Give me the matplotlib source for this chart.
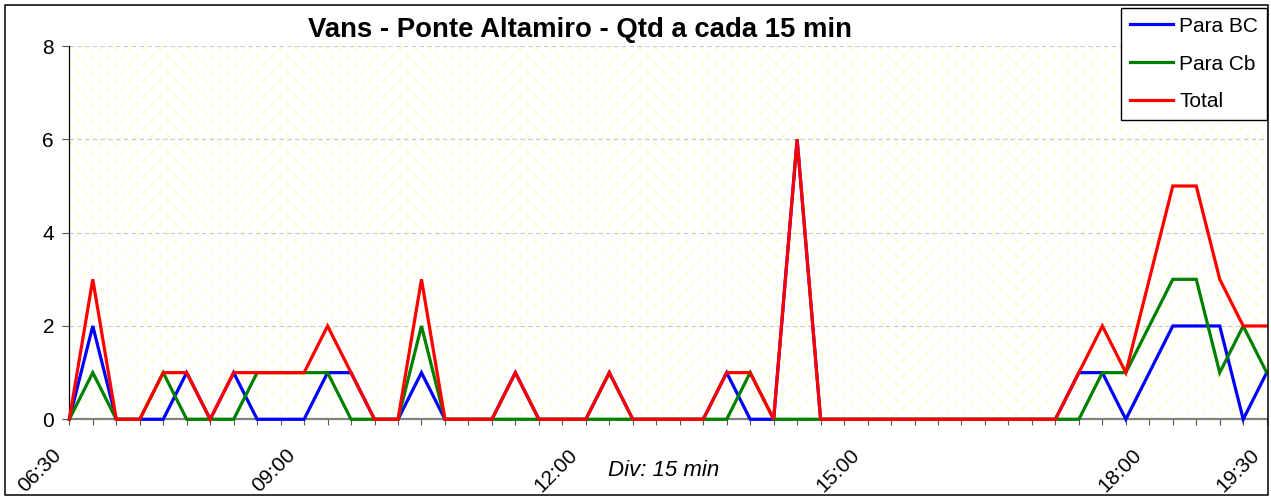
import numpy as np
import matplotlib
matplotlib.use("Agg")
import matplotlib.pyplot as plt
from matplotlib.patches import Rectangle
from matplotlib.transforms import blended_transform_factory

plt.rcParams['font.family'] = ['Liberation Sans', 'DejaVu Sans']

# Vehicle counts per 15-minute slot, starting at 06:30
para_bc = [0, 2, 0, 0, 0, 1, 0, 1, 0, 0, 0, 1, 1, 0, 0, 1, 0, 0, 0, 1,
           0, 0, 0, 1, 0, 0, 0, 0, 1, 0, 0, 6, 0, 0, 0, 0, 0, 0, 0, 0,
           0, 0, 0, 1, 1, 0, 1, 2, 2, 2, 0, 1]
para_cb = [0, 1, 0, 0, 1, 0, 0, 0, 1, 1, 1, 1, 0, 0, 0, 2, 0, 0, 0, 0,
           0, 0, 0, 0, 0, 0, 0, 0, 0, 1, 0, 0, 0, 0, 0, 0, 0, 0, 0, 0,
           0, 0, 0, 0, 1, 1, 2, 3, 3, 1, 2, 1]
total = [0, 3, 0, 0, 1, 1, 0, 1, 1, 1, 1, 2, 1, 0, 0, 3, 0, 0, 0, 1,
         0, 0, 0, 1, 0, 0, 0, 0, 1, 1, 0, 6, 0, 0, 0, 0, 0, 0, 0, 0,
         0, 0, 0, 1, 2, 1, 3, 5, 5, 3, 2, 2]

time_labels = ["06:30", "09:00", "12:00", "15:00", "18:00", "19:30"]
time_label_pos = [-0.45, 9.5, 21.5, 33.55, 45.55, 50.55]

series_names = ["Para BC", "Para Cb", "Total"]
series_colors = ["#0000FF", "#008000", "#FF0000"]

W, H = 1271, 499
fig = plt.figure(figsize=(W / 100, H / 100), dpi=100)

left_px, right_px, top_px, bottom_px = 69.3, 1266.7, 46.0, 419.3
ax = fig.add_axes([left_px / W, (H - bottom_px) / H,
                   (right_px - left_px) / W, (bottom_px - top_px) / H])

# Pale yellow chevron texture for the plotting area
aw, ah = int(round(right_px - left_px)), int(round(bottom_px - top_px))
tex = np.ones((ah, aw, 3))
yellow = np.array([1.0, 1.0, 0.55])
gt = [(0, 0), (1, 1), (2, 2), (1, 3), (0, 4)]
lt = [(2, 0), (1, 1), (0, 2), (1, 3), (2, 4)]
for row, y0 in enumerate(range(1, ah, 8)):
    shift = 0 if row % 2 == 0 else 7
    for col, x0 in enumerate(range(shift, aw, 15)):
        glyph = lt if (col + row) % 2 == 0 else gt
        for dx, dy in glyph:
            yy, xx = y0 + dy, x0 + dx
            if 0 <= yy < ah and 0 <= xx < aw:
                tex[yy, xx] = yellow
ax.imshow(tex, extent=[0, 1, 0, 1], transform=ax.transAxes,
          aspect='auto', interpolation='nearest', zorder=0)

x = np.arange(len(total))
for vals, name, col in zip([para_bc, para_cb, total], series_names, series_colors):
    ax.plot(x, vals, color=col, lw=2.3, label=name, clip_on=False,
            solid_joinstyle='miter', zorder=3)

ax.set_xlim(0, len(total) - 1)
ax.set_ylim(0, 8)
ax.set_yticks([0, 2, 4, 6, 8])
ax.set_yticklabels(["0", "2", "4", "6", "8"], fontsize=15)
ax.set_xticks(x)
ax.set_xticklabels([])
ax.tick_params(axis='y', direction='out', length=5, width=0.8, color='#555555', pad=6)
ax.tick_params(axis='x', direction='out', length=4.5, width=0.8, color='#555555')

for yv in [2, 4, 6, 8]:
    ax.axhline(yv, color='#C8C8C8', lw=0.8, ls=(0, (4, 3)), zorder=1)

for s in ['top', 'right']:
    ax.spines[s].set_visible(False)
ax.spines['left'].set_color('#000000')
ax.spines['left'].set_linewidth(0.9)
ax.spines['bottom'].set_color('#808080')
ax.spines['bottom'].set_linewidth(1.6)
ax.spines['bottom'].set_zorder(2)

# Rotated time labels below the axis
trans = blended_transform_factory(ax.transData, ax.transAxes)
for pos, lab in zip(time_label_pos, time_labels):
    ax.text(pos, -0.088, lab, transform=trans, rotation=45,
            rotation_mode='anchor', ha='right', va='center',
            fontsize=15, clip_on=False)

fig.text(664 / W, 1 - 471 / H, "Div: 15 min", ha='center', va='center',
         fontsize=16, style='italic')

fig.text(579.5 / W, 1 - 30 / H, "Vans - Ponte Altamiro - Qtd a cada 15 min",
         ha='center', va='center', fontsize=19.8, fontweight='bold')

leg = fig.legend(loc='upper right', bbox_to_anchor=(1266.7 / W, 1 - 8 / H),
                 bbox_transform=fig.transFigure, borderaxespad=0,
                 fontsize=15, frameon=True, fancybox=False, framealpha=1,
                 edgecolor='black', handlelength=2.05, handletextpad=0.3,
                 labelspacing=0.9, borderpad=0.42)
leg.get_frame().set_linewidth(1.0)
for ln in leg.get_lines():
    ln.set_linewidth(2.3)

# Outer chart frame
fig.patches.append(Rectangle((4.5 / W, 4.5 / H), (1267.5 - 4.5) / W, (494.5 - 4.5) / H,
                             transform=fig.transFigure, fill=False,
                             edgecolor='black', lw=1.1, zorder=10))

fig.savefig("out.png", dpi=100)
